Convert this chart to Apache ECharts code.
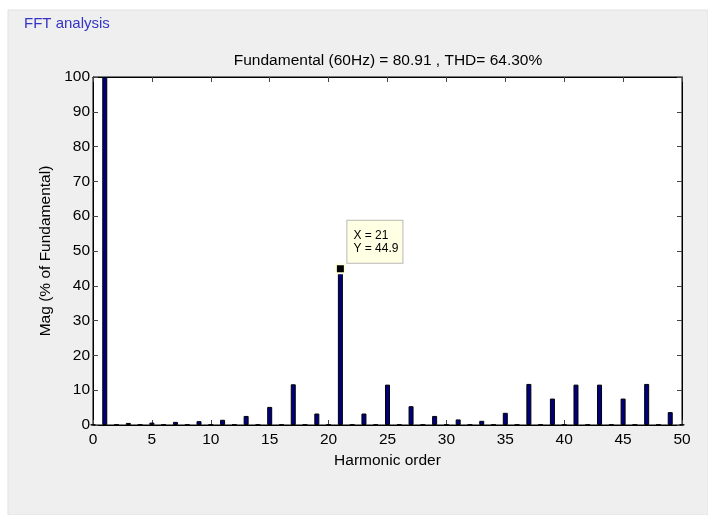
<!DOCTYPE html>
<html>
<head>
<meta charset="utf-8">
<script src="https://cdn.jsdelivr.net/npm/echarts@6/dist/echarts.min.js"></script>
<style>
  html, body { margin: 0; padding: 0; background: #ffffff; }
  #chart { width: 708px; height: 515px; }
</style>
</head>
<body>
<div id="chart"></div>
<script>
// Harmonic spectrum: order 0 (DC) to 50, magnitude in % of fundamental
const harmonicOrder = Array.from({ length: 51 }, (_, i) => i);
const magnitude = [
  0.1, 100, 0.1, 0.6, 0.1, 0.7, 0.1, 0.9, 0.1, 1.1,
  0.1, 1.5, 0.1, 2.6, 0.1, 5.2, 0.1, 11.7, 0.1, 3.3,
  0.1, 44.9, 0.1, 3.3, 0.1, 11.6, 0.1, 5.4, 0.1, 2.6,
  0.1, 1.6, 0.1, 1.2, 0.1, 3.5, 0.1, 11.8, 0.1, 7.6,
  0.1, 11.6, 0.1, 11.6, 0.1, 7.6, 0.1, 11.8, 0.1, 3.7,
  0.1
];
const xTicks = [0, 5, 10, 15, 20, 25, 30, 35, 40, 45, 50];
const yTicks = [0, 10, 20, 30, 40, 50, 60, 70, 80, 90, 100];

// Data cursor on the 21st harmonic
const cursorOrder = 21;
const cursorValue = magnitude[cursorOrder];

const windowTitle = 'FFT analysis';
const plotTitle = 'Fundamental (60Hz) = 80.91 , THD= 64.30%';

const FONT = "'Liberation Sans', Arial, Helvetica, sans-serif";
const TEXT_SIZE = 15.5;

const chart = echarts.init(document.getElementById('chart'), null, { renderer: 'canvas' });

const axisCommon = {
  type: 'value',
  axisLine: { show: true, onZero: false, lineStyle: { color: '#000', width: 1 } },
  axisTick: { show: true, inside: true, length: 5, lineStyle: { color: '#444', width: 1 } },
  splitLine: { show: false }
};

const option = {
  animation: false,
  backgroundColor: 'transparent',
  graphic: [
    {
      type: 'rect', z: -10, silent: true,
      shape: { x: 8, y: 10, width: 700, height: 505 },
      style: { fill: '#efefef', stroke: '#e2e2e2', lineWidth: 1 }
    },
    {
      type: 'text', left: 24, top: 16,
      style: { text: windowTitle, fill: '#3535c5', font: '15px ' + FONT }
    },
    {
      type: 'text', x: 388, y: 61,
      style: {
        text: plotTitle, fill: '#000', font: TEXT_SIZE + 'px ' + FONT,
        textAlign: 'center', textVerticalAlign: 'middle'
      }
    }
  ],
  grid: {
    left: 93, right: 26, top: 77, bottom: 90,
    show: true, backgroundColor: '#ffffff', borderColor: '#000', borderWidth: 1
  },
  xAxis: [
    Object.assign({}, axisCommon, {
      position: 'bottom',
      min: xTicks[0], max: xTicks[xTicks.length - 1], interval: 5,
      axisLabel: { color: '#000', fontSize: TEXT_SIZE, fontFamily: FONT, margin: 7 },
      name: 'Harmonic order', nameLocation: 'middle', nameGap: 24,
      nameTextStyle: { color: '#000', fontSize: TEXT_SIZE, fontFamily: FONT }
    }),
    Object.assign({}, axisCommon, {
      position: 'top',
      min: xTicks[0], max: xTicks[xTicks.length - 1], interval: 5,
      axisLabel: { show: false }
    })
  ],
  yAxis: [
    Object.assign({}, axisCommon, {
      position: 'left',
      min: yTicks[0], max: yTicks[yTicks.length - 1], interval: 10,
      axisLabel: { color: '#000', fontSize: TEXT_SIZE, fontFamily: FONT, margin: 3 },
      name: 'Mag (% of Fundamental)', nameLocation: 'middle', nameGap: 38,
      nameTextStyle: { color: '#000', fontSize: TEXT_SIZE, fontFamily: FONT }
    }),
    Object.assign({}, axisCommon, {
      position: 'right',
      min: yTicks[0], max: yTicks[yTicks.length - 1], interval: 10,
      axisLabel: { show: false }
    })
  ],
  series: [
    {
      type: 'bar',
      xAxisIndex: 0, yAxisIndex: 0,
      barWidth: 5,
      data: harmonicOrder.map((h, i) => [h, magnitude[i]]),
      itemStyle: { color: '#00007f', borderColor: '#000', borderWidth: 1 },
      markPoint: {
        symbol: 'rect',
        symbolSize: 9,
        itemStyle: { color: '#000', borderColor: '#ffffe0', borderWidth: 2 },
        label: {
          show: true,
          position: [12.5, -42.5],
          align: 'left',
          verticalAlign: 'top',
          formatter: () => 'X = ' + cursorOrder + '\nY = ' + cursorValue,
          color: '#000',
          fontSize: 12,
          fontFamily: FONT,
          lineHeight: 13,
          backgroundColor: '#ffffe3',
          borderColor: '#b8b8b8',
          borderWidth: 1,
          padding: [8, 4, 8, 6]
        },
        data: [{ coord: [cursorOrder, cursorValue], value: cursorValue }]
      }
    }
  ]
};

chart.setOption(option);
</script>
</body>
</html>
